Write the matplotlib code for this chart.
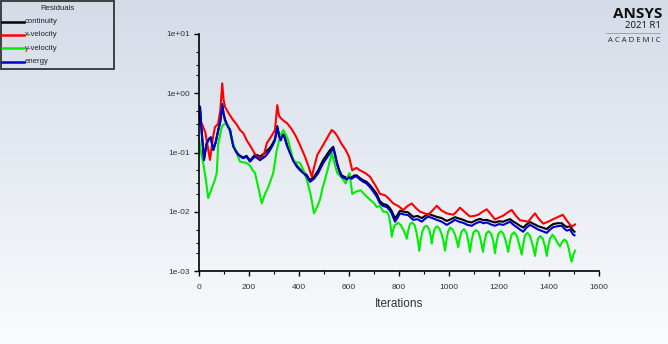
import numpy as np
import matplotlib
matplotlib.use("Agg")
import matplotlib.pyplot as plt
from matplotlib.lines import Line2D
from matplotlib.patches import Rectangle
from matplotlib.ticker import LogLocator, MultipleLocator

plt.rcParams['font.family'] = ['Liberation Sans', 'DejaVu Sans']

# ---------------- data ----------------
series_names = ["continuity", "x-velocity", "y-velocity", "energy"]

red_iter = [0, 11, 25, 44, 55, 64, 76, 85, 93, 98, 104, 120, 137, 150, 164, 178, 191, 207, 220, 231,
            251, 262, 271, 290, 304, 313, 320, 327, 340, 353, 370, 387, 405, 424, 440, 451, 462, 473,
            490, 507, 520, 531, 542, 553, 570, 587, 600, 613, 630, 644, 665, 684, 705, 724, 744, 757,
            777, 797, 817, 834, 851, 868, 884, 900, 917, 934, 951, 970, 991, 1017, 1030, 1044, 1064,
            1084, 1100, 1117, 1134, 1151, 1168, 1184, 1200, 1217, 1234, 1251, 1268, 1284, 1300, 1317,
            1330, 1344, 1360, 1377, 1397, 1417, 1437, 1455, 1472, 1491, 1504]
red_vals = [0.30, 0.31, 0.22, 0.075, 0.17, 0.27, 0.30, 0.50, 1.47, 0.80, 0.59, 0.45, 0.35, 0.30, 0.24,
            0.21, 0.16, 0.126, 0.10, 0.085, 0.079, 0.10, 0.143, 0.19, 0.24, 0.63, 0.42, 0.38, 0.34, 0.31,
            0.25, 0.19, 0.13, 0.085, 0.055, 0.039, 0.06, 0.091, 0.12, 0.16, 0.20, 0.24, 0.22, 0.19, 0.14,
            0.11, 0.085, 0.050, 0.055, 0.050, 0.045, 0.039, 0.028, 0.020, 0.019, 0.017, 0.0138, 0.0125,
            0.0107, 0.0125, 0.0138, 0.0115, 0.0100, 0.0095, 0.0089, 0.0105, 0.0126, 0.0105, 0.0094,
            0.0089, 0.0100, 0.0117, 0.0098, 0.0083, 0.0085, 0.0089, 0.0100, 0.0110, 0.0090, 0.0074,
            0.0080, 0.0086, 0.0097, 0.0107, 0.0085, 0.0072, 0.0070, 0.0068, 0.0080, 0.0094, 0.0075,
            0.0063, 0.0068, 0.0075, 0.0082, 0.0089, 0.0070, 0.0056, 0.0061]

green_iter = [0, 8, 17, 27, 37, 51, 62, 71, 77, 91, 100, 111, 117, 127, 137, 150, 164, 180, 192, 204,
              215, 224, 238, 251, 264, 277, 297, 311, 325, 337, 347, 357, 377, 390, 404, 418, 431, 446,
              460, 472, 484, 494, 504, 514, 524, 531, 542, 553, 570, 587, 596, 602, 613, 630, 647, 665,
              684, 700, 711, 724, 737, 751, 760, 766, 771, 777, 784, 797, 807, 817, 825, 831, 837, 844,
              852, 862, 870, 877, 881, 886, 893, 902, 912, 921, 927, 931, 936, 943, 952, 962, 972, 979,
              984, 989, 996, 1005, 1015, 1025, 1032, 1037, 1042, 1050, 1060, 1070, 1077, 1084, 1089,
              1097, 1107, 1117, 1125, 1131, 1136, 1141, 1149, 1159, 1169, 1177, 1184, 1189, 1197, 1207,
              1217, 1226, 1232, 1237, 1242, 1250, 1260, 1270, 1279, 1286, 1291, 1296, 1304, 1314, 1324,
              1333, 1340, 1344, 1349, 1356, 1365, 1375, 1384, 1391, 1396, 1404, 1414, 1424, 1434, 1444,
              1451, 1461, 1470, 1479, 1486, 1491, 1496, 1504]
green_vals = [0.17, 0.10, 0.066, 0.035, 0.017, 0.025, 0.033, 0.045, 0.14, 0.27, 0.30, 0.31, 0.28,
              0.19, 0.14, 0.10, 0.07, 0.068, 0.066, 0.060, 0.050, 0.045, 0.025, 0.0138, 0.020, 0.026,
              0.045, 0.11, 0.19, 0.24, 0.20, 0.16, 0.074, 0.068, 0.067, 0.050, 0.035, 0.020, 0.0094,
              0.012, 0.016, 0.025, 0.035, 0.050, 0.074, 0.098, 0.065, 0.045, 0.038, 0.030, 0.040, 0.045,
              0.020, 0.022, 0.023, 0.019, 0.016, 0.014, 0.012, 0.0125, 0.0100, 0.0100, 0.0085, 0.0060,
              0.0038, 0.0050, 0.0060, 0.0065, 0.0060, 0.0050, 0.0042, 0.0035, 0.0048, 0.0062, 0.0066,
              0.0060, 0.0045, 0.0030, 0.0022, 0.0032, 0.0046, 0.0056, 0.0058, 0.0050, 0.0038, 0.0029,
              0.0040, 0.0052, 0.0057, 0.0052, 0.0040, 0.0030, 0.0022, 0.0032, 0.0046, 0.0054, 0.0050,
              0.0040, 0.0031, 0.0025, 0.0034, 0.0046, 0.0051, 0.0044, 0.0032, 0.0021, 0.0030, 0.0044,
              0.0049, 0.0046, 0.0036, 0.0027, 0.0021, 0.0030, 0.0043, 0.0047, 0.0042, 0.0032, 0.0020,
              0.0029, 0.0042, 0.0047, 0.0043, 0.0033, 0.0026, 0.0021, 0.0029, 0.0041, 0.0045, 0.0040,
              0.0030, 0.0023, 0.0019, 0.0027, 0.0040, 0.0044, 0.0039, 0.0029, 0.0022, 0.0018, 0.0025,
              0.0035, 0.0039, 0.0035, 0.0026, 0.0018, 0.0025, 0.0035, 0.0041, 0.0036, 0.0030, 0.0026,
              0.0030, 0.0034, 0.0032, 0.0024, 0.0017, 0.00144, 0.0018, 0.0022]

blue_iter = [0, 4, 11, 20, 30, 40, 47, 57, 67, 77, 85, 93, 98, 104, 114, 124, 137, 147, 157, 167,
             177, 190, 204, 214, 224, 234, 244, 254, 264, 274, 284, 294, 304, 313, 320, 327, 333, 340,
             352, 364, 377, 391, 404, 417, 430, 444, 460, 477, 487, 497, 510, 524, 537, 544, 551, 561,
             571, 581, 591, 601, 611, 621, 631, 644, 657, 670, 684, 697, 711, 724, 737, 751, 760, 770,
             784, 795, 804, 820, 836, 857, 874, 891, 904, 917, 934, 951, 971, 991, 1008, 1024, 1040,
             1057, 1074, 1091, 1108, 1124, 1138, 1151, 1168, 1184, 1200, 1217, 1231, 1244, 1258, 1271,
             1284, 1297, 1310, 1324, 1340, 1357, 1374, 1391, 1404, 1417, 1434, 1451, 1461, 1471, 1484,
             1497, 1502]
blue_vals = [0.35, 0.60, 0.21, 0.074, 0.14, 0.17, 0.18, 0.11, 0.15, 0.24, 0.33, 0.63, 0.45, 0.35,
             0.28, 0.24, 0.126, 0.105, 0.091, 0.085, 0.080, 0.085, 0.070, 0.078, 0.085, 0.080, 0.074,
             0.080, 0.085, 0.095, 0.11, 0.13, 0.16, 0.27, 0.19, 0.16, 0.19, 0.19, 0.13, 0.098, 0.072,
             0.058, 0.050, 0.045, 0.040, 0.032, 0.036, 0.045, 0.055, 0.066, 0.080, 0.098, 0.117, 0.090,
             0.066, 0.048, 0.039, 0.037, 0.035, 0.038, 0.036, 0.039, 0.039, 0.035, 0.032, 0.030, 0.026,
             0.022, 0.018, 0.0138, 0.0125, 0.012, 0.011, 0.0095, 0.0068, 0.0080, 0.0094, 0.0090,
             0.0088, 0.0073, 0.0075, 0.0068, 0.0076, 0.0083, 0.0078, 0.0073, 0.0068, 0.0060, 0.0066,
             0.0073, 0.0068, 0.0065, 0.0060, 0.0058, 0.0064, 0.0068, 0.0064, 0.0066, 0.0061, 0.0058,
             0.0062, 0.0060, 0.0064, 0.0068, 0.0060, 0.0055, 0.0050, 0.0046, 0.0054, 0.0060, 0.0055,
             0.0050, 0.0047, 0.0044, 0.0050, 0.0055, 0.0057, 0.0058, 0.0052, 0.0048, 0.0050, 0.0041,
             0.0040]

black_iter = [0, 4, 11, 20, 30, 40, 47, 57, 67, 77, 85, 93, 98, 104, 114, 124, 137, 147, 157, 167,
              177, 190, 204, 214, 224, 234, 244, 254, 264, 274, 284, 294, 304, 313, 320, 327, 333, 340,
              352, 364, 377, 391, 404, 417, 430, 444, 460, 477, 487, 497, 510, 524, 537, 544, 551, 561,
              571, 581, 591, 601, 611, 621, 631, 644, 657, 670, 684, 697, 711, 724, 737, 751, 760, 770,
              784, 795, 804, 820, 836, 857, 874, 891, 904, 917, 934, 951, 971, 991, 1008, 1024, 1040,
              1057, 1074, 1091, 1108, 1124, 1138, 1151, 1168, 1184, 1200, 1217, 1231, 1244, 1258, 1271,
              1284, 1297, 1310, 1324, 1340, 1357, 1374, 1391, 1404, 1417, 1434, 1451, 1461, 1471, 1484,
              1497, 1502]
black_vals = [0.35, 0.58, 0.22, 0.078, 0.14, 0.17, 0.18, 0.11, 0.15, 0.24, 0.33, 0.66, 0.46, 0.36,
              0.29, 0.24, 0.13, 0.108, 0.093, 0.087, 0.082, 0.088, 0.073, 0.082, 0.092, 0.090, 0.085,
              0.092, 0.098, 0.11, 0.12, 0.14, 0.17, 0.28, 0.20, 0.17, 0.20, 0.20, 0.135, 0.10, 0.075,
              0.060, 0.052, 0.047, 0.042, 0.034, 0.039, 0.050, 0.062, 0.075, 0.090, 0.11, 0.125, 0.095,
              0.070, 0.050, 0.041, 0.039, 0.037, 0.040, 0.038, 0.041, 0.041, 0.037, 0.034, 0.032, 0.028,
              0.024, 0.020, 0.0150, 0.0135, 0.013, 0.012, 0.0105, 0.0077, 0.0090, 0.0104, 0.0100,
              0.0098, 0.0082, 0.0085, 0.0078, 0.0085, 0.0092, 0.0087, 0.0082, 0.0078, 0.0070, 0.0075,
              0.0081, 0.0077, 0.0073, 0.0068, 0.0066, 0.0072, 0.0076, 0.0072, 0.0073, 0.0069, 0.0066,
              0.0069, 0.0068, 0.0072, 0.0075, 0.0068, 0.0063, 0.0058, 0.0054, 0.0061, 0.0067, 0.0062,
              0.0057, 0.0054, 0.0051, 0.0057, 0.0062, 0.0064, 0.0064, 0.0059, 0.0055, 0.0057, 0.0048,
              0.0046]

xticks = [0, 200, 400, 600, 800, 1000, 1200, 1400, 1600]
yticks = [1e-3, 1e-2, 1e-1, 1e0, 1e1]
ytick_labels = ["1e-03", "1e-02", "1e-01", "1e+00", "1e+01"]

# ---------------- figure ----------------
W, H = 668, 344
fig = plt.figure(figsize=(W / 100, H / 100), dpi=100)


def fx(px):
    return px / W


def fy(py):
    return 1 - py / H


# background gradient
bg = fig.add_axes([0, 0, 1, 1], zorder=-10)
top = np.array([212, 220, 232]) / 255
bot = np.array([250, 251, 253]) / 255
t = np.linspace(0, 1, 256)[:, None]
grad = top[None, :] * (1 - t) + bot[None, :] * t
bg.imshow(grad[:, None, :], aspect='auto', extent=[0, 1, 0, 1])
bg.axis('off')

ax = fig.add_axes([fx(199), fy(271), 400 / W, 237 / H])
ax.patch.set_alpha(0)

colors = {"continuity": "#000000", "x-velocity": "#ff0000", "y-velocity": "#00ee00", "energy": "#0000cc"}
data = {"continuity": (black_iter, black_vals),
        "x-velocity": (red_iter, red_vals),
        "y-velocity": (green_iter, green_vals),
        "energy": (blue_iter, blue_vals)}
for name in ["continuity", "x-velocity", "y-velocity", "energy"]:
    xs, ys = data[name]
    ax.plot(xs, ys, color=colors[name], lw=1.5, solid_joinstyle='round')

ax.set_yscale('log')
ax.set_xlim(0, 1600)
ax.set_ylim(1e-3, 1e1)
ax.set_xticks(xticks)
ax.xaxis.set_minor_locator(MultipleLocator(100))
ax.set_yticks(yticks)
ax.set_yticklabels(ytick_labels)
ax.yaxis.set_minor_locator(LogLocator(base=10, subs=[2, 3, 5]))
ax.yaxis.set_minor_formatter(plt.NullFormatter())
for s in ['top', 'right']:
    ax.spines[s].set_visible(False)
for s in ['left', 'bottom']:
    ax.spines[s].set_linewidth(1.2)
    ax.spines[s].set_color('black')
ax.tick_params(axis='both', which='major', length=3.5, width=1, labelsize=6, colors='black',
               labelcolor='#333333', pad=3)
ax.tick_params(axis='both', which='minor', length=2.5, width=0.8)
ax.tick_params(axis='x', pad=6)
ax.set_xlabel("Iterations", fontsize=8.5, color='#333333', labelpad=5)

# legend (drawn as a box with entries)
fig.add_artist(Rectangle((fx(1), fy(69)), fx(113), 68 / H, transform=fig.transFigure,
                         facecolor='none', edgecolor='#333333', lw=1.3))
fig.text(fx(57), fy(8), "Residuals", fontsize=5.6, ha='center', va='center', color='#222222')
entry_y = [21.5, 34.5, 48, 61.5]
for name, ey in zip(series_names, entry_y):
    fig.add_artist(Line2D([fx(2), fx(24)], [fy(ey), fy(ey)], color=colors[name], lw=1.8))
    fig.text(fx(24.5), fy(ey), name, fontsize=5.6, ha='left', va='center', color='#222222')

# ANSYS logo
fig.text(fx(662), fy(17.5), "ANSYS", fontsize=11, fontweight='bold', ha='right', va='baseline',
         color='#111111', family=['Open Sans', 'DejaVu Sans'])
fig.text(fx(661), fy(28.5), "2021 R1", fontsize=6.8, ha='right', va='baseline', color='#111111',
         family=['Open Sans', 'DejaVu Sans'])
fig.add_artist(Line2D([fx(606), fx(660)], [fy(32.5), fy(32.5)], color='#999999', lw=0.6))
fig.text(fx(661), fy(41), "A C A D E M I C", fontsize=5.6, ha='right', va='center', color='#222222',
         family=['Open Sans', 'DejaVu Sans'])

fig.savefig("out.png", dpi=100)
